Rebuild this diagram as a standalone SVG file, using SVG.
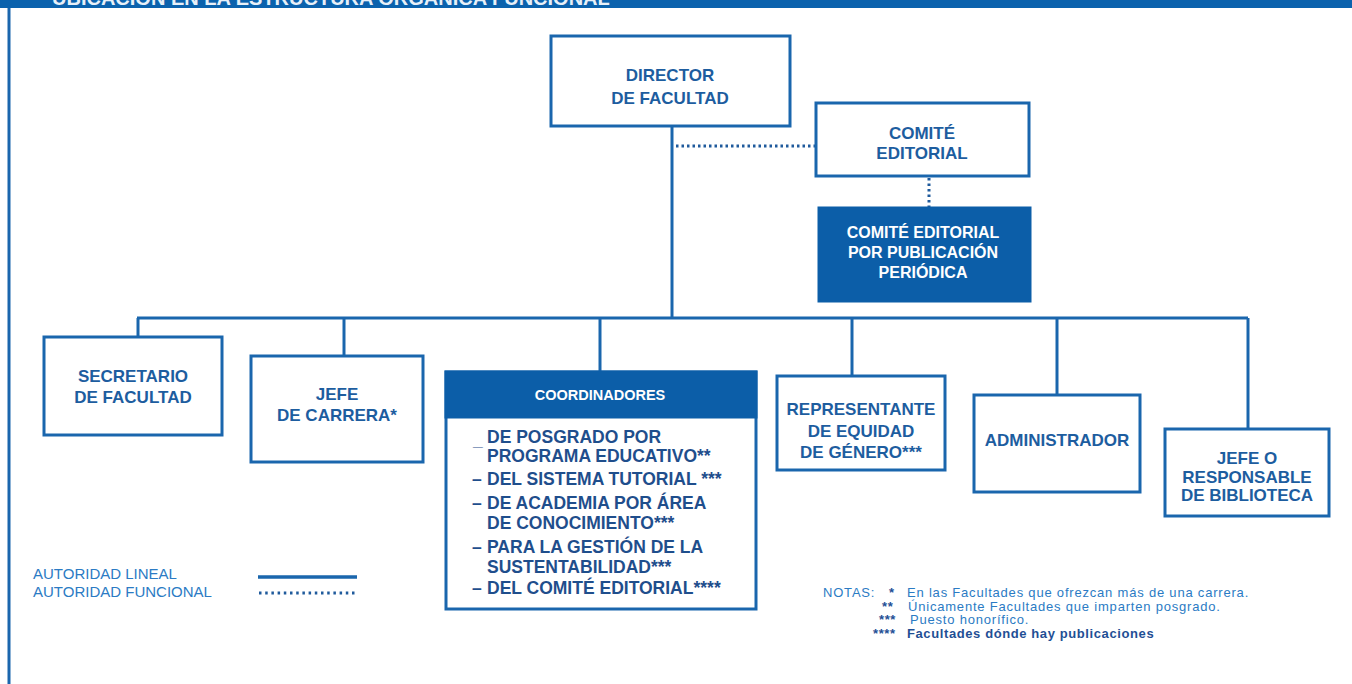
<svg xmlns="http://www.w3.org/2000/svg" width="1352" height="684" viewBox="0 0 1352 684">
<style>
text{font-family:"Liberation Sans",Arial,sans-serif;}
.box{fill:#fff;stroke:#1a66ad;stroke-width:3;}
.fill{fill:#0c5ea8;stroke:#0c5ea8;stroke-width:3;}
.t{font-weight:bold;font-size:17px;fill:#1d5d9f;text-anchor:middle;}
.tw{font-weight:bold;font-size:16px;fill:#fff;text-anchor:middle;}
.li{font-weight:bold;font-size:17.5px;fill:#1f4e8c;}
.line{stroke:#1a66ad;stroke-width:3;fill:none;}
.dot{stroke:#1f5a9c;stroke-width:3;fill:none;stroke-dasharray:2.5 3;}
.leg{font-size:15px;fill:#2b7bc4;}
.note{font-size:13px;fill:#2b7bc4;letter-spacing:0.8px;}
.noteb{font-size:13px;fill:#1f4f95;font-weight:bold;letter-spacing:0.6px;}
</style>
<rect x="0" y="0" width="1352" height="684" fill="#fff"/>
<g id="header">
<rect x="0" y="0" width="1352" height="8" fill="#0b62ad"/>
<text x="52" y="5" font-size="20" font-weight="bold" fill="#e8f0f8">UBICACIÓN EN LA ESTRUCTURA ORGÁNICA FUNCIONAL</text>
<line x1="9" y1="8" x2="9" y2="684" stroke="#1a66ad" stroke-width="3"/>
</g>
<g id="connectors">
<line class="line" x1="672" y1="127" x2="672" y2="318"/>
<line class="line" x1="137" y1="318" x2="1248" y2="318"/>
<line class="line" x1="138" y1="318" x2="138" y2="337"/>
<line class="line" x1="344" y1="318" x2="344" y2="356"/>
<line class="line" x1="600" y1="318" x2="600" y2="372"/>
<line class="line" x1="852" y1="318" x2="852" y2="376"/>
<line class="line" x1="1057" y1="318" x2="1057" y2="395"/>
<line class="line" x1="1248" y1="318" x2="1248" y2="429"/>
<line class="dot" x1="676" y1="146" x2="815" y2="146"/>
<line class="dot" x1="929" y1="178" x2="929" y2="207"/>
</g>
<g id="director">
<rect class="box" x="551" y="36" width="239" height="90"/>
<text class="t" x="670" y="81" font-size="18">DIRECTOR</text>
<text class="t" x="670" y="104" font-size="18">DE FACULTAD</text>
</g>
<g id="comite">
<rect class="box" x="816" y="103" width="213" height="73"/>
<text class="t" x="922" y="139" font-size="16">COMITÉ</text>
<text class="t" x="922" y="159" font-size="16">EDITORIAL</text>
</g>
<g id="comite-periodica">
<rect class="fill" x="819" y="208" width="211" height="93"/>
<text class="tw" x="923" y="238">COMITÉ EDITORIAL</text>
<text class="tw" x="923" y="258">POR PUBLICACIÓN</text>
<text class="tw" x="923" y="278">PERIÓDICA</text>
</g>
<g id="secretario">
<rect class="box" x="44" y="337" width="178" height="98"/>
<text class="t" x="133" y="382">SECRETARIO</text>
<text class="t" x="133" y="403">DE FACULTAD</text>
</g>
<g id="jefe-carrera">
<rect class="box" x="251" y="356" width="172" height="106"/>
<text class="t" x="337" y="400">JEFE</text>
<text class="t" x="337" y="421">DE CARRERA*</text>
</g>
<g id="coordinadores">
<rect class="box" x="446" y="372" width="310" height="237"/>
<rect class="fill" x="446" y="372" width="310" height="45"/>
<text x="600" y="400" font-size="14.5" font-weight="bold" fill="#fff" text-anchor="middle">COORDINADORES</text>
<text class="li" x="473" y="446" font-size="14">_</text>
<text class="li" x="487" y="443">DE POSGRADO POR</text>
<text class="li" x="487" y="462">PROGRAMA EDUCATIVO**</text>
<text class="li" x="472" y="485">–</text>
<text class="li" x="487" y="485">DEL SISTEMA TUTORIAL ***</text>
<text class="li" x="472" y="509">–</text>
<text class="li" x="487" y="509">DE ACADEMIA POR ÁREA</text>
<text class="li" x="487" y="529">DE CONOCIMIENTO***</text>
<text class="li" x="472" y="553">–</text>
<text class="li" x="487" y="553">PARA LA GESTIÓN DE LA</text>
<text class="li" x="487" y="573">SUSTENTABILIDAD***</text>
<text class="li" x="472" y="594">–</text>
<text class="li" x="487" y="594">DEL COMITÉ EDITORIAL****</text>
</g>
<g id="representante">
<rect class="box" x="777" y="376" width="168" height="94"/>
<text class="t" x="861" y="415">REPRESENTANTE</text>
<text class="t" x="861" y="437">DE EQUIDAD</text>
<text class="t" x="861" y="458">DE GÉNERO***</text>
</g>
<g id="administrador">
<rect class="box" x="974" y="395" width="166" height="97"/>
<text class="t" x="1057" y="446">ADMINISTRADOR</text>
</g>
<g id="biblioteca">
<rect class="box" x="1165" y="429" width="164" height="87"/>
<text class="t" x="1247" y="464">JEFE O</text>
<text class="t" x="1247" y="483">RESPONSABLE</text>
<text class="t" x="1247" y="501">DE BIBLIOTECA</text>
</g>
<g id="legend">
<text class="leg" x="33" y="579">AUTORIDAD LINEAL</text>
<text class="leg" x="33" y="597">AUTORIDAD FUNCIONAL</text>
<line x1="258" y1="577" x2="357" y2="577" stroke="#1a66ad" stroke-width="3.5"/>
<line x1="259" y1="593" x2="357" y2="593" stroke="#1f5a9c" stroke-width="3" stroke-dasharray="2.5 3.7"/>
</g>
<g id="notas">
<text class="note" x="823" y="597">NOTAS:</text>
<text class="noteb" x="889" y="597">*</text>
<text class="note" x="907" y="597">En las Facultades que ofrezcan más de una carrera.</text>
<text class="noteb" x="882" y="611">**</text>
<text class="note" x="908" y="611">Únicamente Facultades que imparten posgrado.</text>
<text class="noteb" x="879" y="624">***</text>
<text class="note" x="910" y="624">Puesto honorífico.</text>
<text class="noteb" x="873" y="638">****</text>
<text class="noteb" x="907" y="638">Facultades dónde hay publicaciones</text>
</g>
</svg>
